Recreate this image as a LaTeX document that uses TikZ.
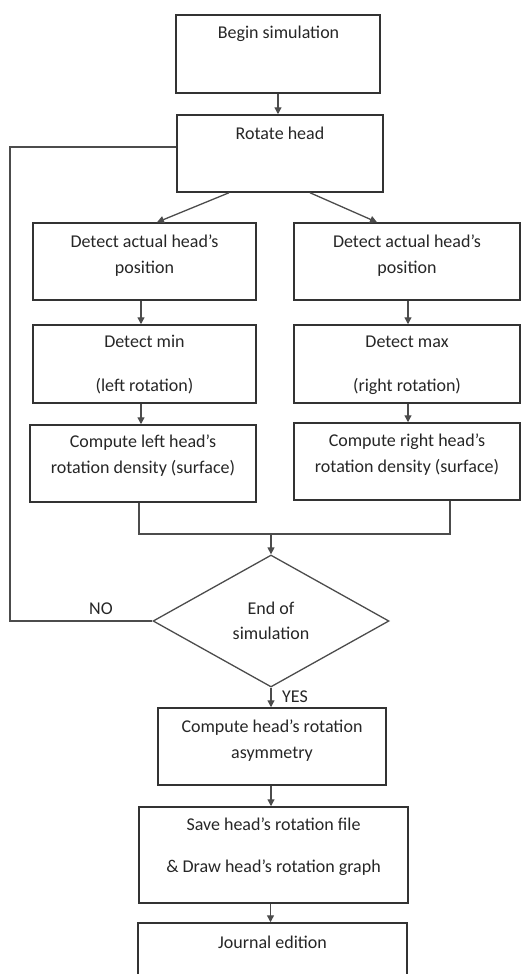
\documentclass[tikz,border=0pt]{standalone}
\usepackage{fontspec}
\setmainfont{Carlito}
\usetikzlibrary{shapes.geometric,arrows.meta,calc}
\begin{document}
\begin{tikzpicture}[x=1pt,y=-1pt,
  box/.style={draw=black!80,line width=1.5pt,rectangle,inner sep=0pt},
  dia/.style={draw=black!70,line width=1.3pt,diamond,inner sep=0pt,minimum width=236pt,minimum height=132pt},
  txt/.style={align=center,text=black!85,font=\fontsize{18}{26}\selectfont,inner sep=0pt},
  lbl/.style={text=black!85,font=\fontsize{18}{22}\selectfont,inner sep=0pt},
  con/.style={draw=black!70,line width=1.3pt},
  arr/.style={con,-{Triangle[length=7pt,width=7pt]}}]
\useasboundingbox (0,0) rectangle (521,974);
\clip (0,0) rectangle (521,974);
% boxes
\node[box,minimum width=204pt,minimum height=78pt] (b1) at (278,54) {};
\node[box,minimum width=206pt,minimum height=77pt] (b2) at (280,153.5) {};
\node[box,minimum width=223pt,minimum height=77pt] (l1) at (144.5,261.5) {};
\node[box,minimum width=226pt,minimum height=77pt] (r1) at (407,261.5) {};
\node[box,minimum width=223pt,minimum height=78pt] (l2) at (144.5,364) {};
\node[box,minimum width=226pt,minimum height=78pt] (r2) at (407,364) {};
\node[box,minimum width=226pt,minimum height=77pt] (l3) at (143,463.5) {};
\node[box,minimum width=226pt,minimum height=77pt] (r3) at (407,461.5) {};
\node[dia] (d) at (271,621) {};
\node[box,minimum width=228pt,minimum height=77pt] (c) at (272,746.5) {};
\node[box,minimum width=269pt,minimum height=96pt] (s) at (273.5,855) {};
\node[box,minimum width=269pt,minimum height=77pt] (j) at (272.5,961.5) {};
% texts
\node[txt] (tb1) at (278.5,34) {Begin simulation};
\node[txt] (tb2) at (280,133) {Rotate head};
\node[txt] (tl1) at (144.5,256) {Detect actual head’s\\position};
\node[txt] (tr1) at (407,256) {Detect actual head’s\\position};
\node[txt] (tl2) at (144.5,365) {Detect min\\[18pt](left rotation)};
\node[txt] (tr2) at (407,365) {Detect max\\[18pt](right rotation)};
\node[txt] (tl3) at (143,456) {Compute left head’s\\rotation density (surface)};
\node[txt] (tr3) at (407,454.5) {Compute right head’s\\rotation density (surface)};
\node[txt,font=\fontsize{18}{25}\selectfont] (td) at (271,620.5) {End of\\simulation};
\node[txt] (tc) at (272,741) {Compute head’s rotation\\asymmetry};
\node[txt] (ts) at (273.5,847) {Save head’s rotation file\\[16pt]\& Draw head’s rotation graph};
\node[txt] (tj) at (272.5,942) {Journal edition};
\node[lbl] (no) at (101,609) {NO};
\node[lbl] (yes) at (295,697) {YES};
% coordinates
\coordinate (join) at (271,534);
\coordinate (loop) at (10,400);
% connectors
\draw[arr] (b1.south) -- (b1.south |- b2.north);
\draw[arr] ([xshift=-51pt]b2.south) -- ([xshift=12.5pt]l1.north);
\draw[arr] ([xshift=30pt]b2.south) -- ([xshift=-30pt]r1.north);
\draw[arr] ([xshift=-3.5pt]l1.south) -- ([xshift=-3.5pt]l2.north);
\draw[arr] ([xshift=1pt]r1.south) -- ([xshift=1pt]r2.north);
\draw[arr] ([xshift=-3.5pt]l2.south) -- ([xshift=-2pt]l3.north);
\draw[arr] ([xshift=1pt]r2.south) -- ([xshift=1pt]r3.north);
\draw[con] ([xshift=-4pt]l3.south) |- (join) -| ([xshift=43pt]r3.south);
\draw[arr] (join) -- (d.north);
\draw[con] ([yshift=6.5pt]b2.west) -| (loop) |- (d.west);
\draw[arr] (d.south) -- (d.south |- c.north);
\draw[arr] ([xshift=-1pt]c.south) -- ([xshift=-1pt]c.south |- s.north);
\draw[arr] ([xshift=-3pt]s.south) -- ([xshift=-3pt]s.south |- j.north);
\end{tikzpicture}
\end{document}
